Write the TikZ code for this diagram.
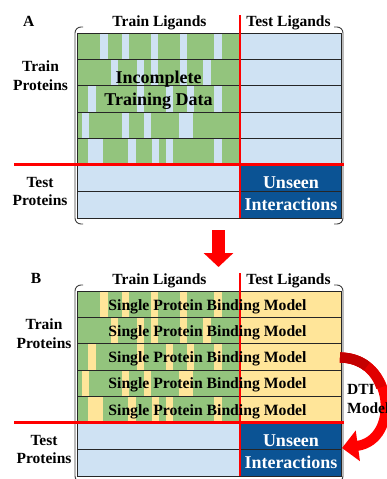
\documentclass[tikz,border=0pt]{standalone}
\usepackage{fontspec}
\setmainfont{Liberation Serif}
\usetikzlibrary{arrows.meta}
\definecolor{cgreen}{HTML}{93C47D}
\definecolor{cblue}{HTML}{CFE2F3}
\definecolor{cyellow}{HTML}{FFE599}
\definecolor{cdark}{HTML}{0B5394}
\definecolor{cred}{HTML}{FF0000}
\definecolor{cred2}{HTML}{E00000}
\definecolor{cred3}{HTML}{C40000}
\tikzset{
  lbl/.style={font=\bfseries\fontsize{15.5}{18}\selectfont, anchor=base, inner sep=0pt},
  big/.style={font=\bfseries\fontsize{18}{21}\selectfont, anchor=base, inner sep=0pt},
  spbm/.style={font=\bfseries\fontsize{15.7}{18}\selectfont, anchor=base, inner sep=0pt},
  rowline/.style={draw=black!85, line width=0.9pt},
  redline/.style={draw=cred, line width=2.5pt},
  bracket/.style={draw=black!75, line width=0.9pt, rounded corners=6pt},
  blockarrow/.style={draw=cred, line width=13pt, -{Triangle[length=14pt,width=29pt]}},
  curvearrow/.style={draw=cred, line width=10pt, -{Triangle[length=16pt,width=30pt]}},
  curveshade/.style={line width=10.2pt},
}
\newcommand\drawgrid[2]{%
  \fill[cgreen] (77,33.5) rectangle (240,164.5);
  \foreach \r/\g in {0/{100/108,122/129,151/158,180/187,214/222},
                     1/{111/118,137/144,151/158,180/187,203/211},
                     2/{88/96,137/144,166/173,187/194,214/222},
                     3/{82/89,122/129,144/151,179/193},
                     4/{88/103,128/136,152/159,166/173,214/222}}{%
    \pgfmathsetmacro\ya{33.5+26.2*\r}%
    \pgfmathsetmacro\yb{\ya+26.2}%
    \foreach \a/\b in \g {\fill[#1] (\a,\ya) rectangle (\b,\yb);}%
  }
  \fill[#2] (240,33.5) rectangle (341,164.5);
  \fill[cblue] (77,164.5) rectangle (240,218);
  \fill[cdark] (240,164.5) rectangle (341,218);
  \foreach \y in {59.7,85.9,112.1,138.3,191.25} \draw[rowline] (77,\y) -- (341,\y);
  \draw[rowline] (77,33.5) rectangle (341,218);
  \draw[bracket] (83,27) -- (75,27) -- (75,224) -- (83,224);
  \draw[bracket] (334,27) -- (343,27) -- (343,224) -- (334,224);
  \draw[redline] (240,15) -- (240,218);
  \draw[redline] (14,164.5) -- (344,164.5);
}
\begin{document}
\begin{tikzpicture}[x=1pt,y=-1pt]
\useasboundingbox (0,0) rectangle (387,479);
\fill[white] (0,0) rectangle (387,479);

% ---------- Panel A ----------
\drawgrid{cblue}{cblue}
\node[lbl] (aLab) at (28.7,27) {A};
\node[lbl] (aTrL) at (159.5,26) {Train Ligands};
\node[lbl] (aTeL) at (288.5,26) {Test Ligands};
\node[lbl] (aTrP1) at (40.5,71) {Train};
\node[lbl] (aTrP2) at (40.5,90) {Proteins};
\node[lbl] (aTeP1) at (40,187) {Test};
\node[lbl] (aTeP2) at (40,205) {Proteins};
\node[big] (aInc1) at (158.5,83.3) {Incomplete};
\node[big] (aInc2) at (158.5,105) {Training Data};
\node[big,text=white] (aUn1) at (291,188.3) {Unseen};
\node[big,text=white] (aUn2) at (291,210.5) {Interactions};

% ---------- down arrow ----------
\coordinate (dnS) at (218.5,230);
\coordinate (dnE) at (218.5,267);
\draw[blockarrow] (dnS) -- (dnE);

% ---------- Panel B ----------
\begin{scope}[yshift=-258pt]
\drawgrid{cyellow}{cyellow}
\node[lbl] (bLab) at (36,25) {B};
\node[lbl] (bTrL) at (159.5,26) {Train Ligands};
\node[lbl] (bTeL) at (288.5,26) {Test Ligands};
\node[lbl] (bTrP1) at (44,71) {Train};
\node[lbl] (bTrP2) at (44,90) {Proteins};
\node[lbl] (bTeP1) at (44,187) {Test};
\node[lbl] (bTeP2) at (44,205) {Proteins};
\node[spbm] (bM1) at (207.5,52.3) {Single Protein Binding Model};
\node[spbm] (bM2) at (207.5,78.5) {Single Protein Binding Model};
\node[spbm] (bM3) at (207.5,104.7) {Single Protein Binding Model};
\node[spbm] (bM4) at (207.5,130.9) {Single Protein Binding Model};
\node[spbm] (bM5) at (207.5,157.1) {Single Protein Binding Model};
\node[big,text=white] (bUn1) at (291,188.3) {Unseen};
\node[big,text=white] (bUn2) at (291,210.5) {Interactions};
\end{scope}

% ---------- DTI model arrow ----------
\coordinate (dtiS) at (340,357.5);
\coordinate (dtiE) at (342,448);
\draw[curvearrow] (dtiS) .. controls (395,358) and (400,440) .. (dtiE);
\draw[curveshade,cred2] (dtiS) .. controls (362,357.7) and (376,370.94) .. (381.17,387.27);
\draw[curveshade,cred3] (dtiS) .. controls (351,357.6) and (360,360.96) .. (366.9,366.34);
\node[lbl,anchor=base west] (dti1) at (347,394) {DTI};
\node[lbl,anchor=base west] (dti2) at (347,413) {Model};
\end{tikzpicture}
\end{document}
